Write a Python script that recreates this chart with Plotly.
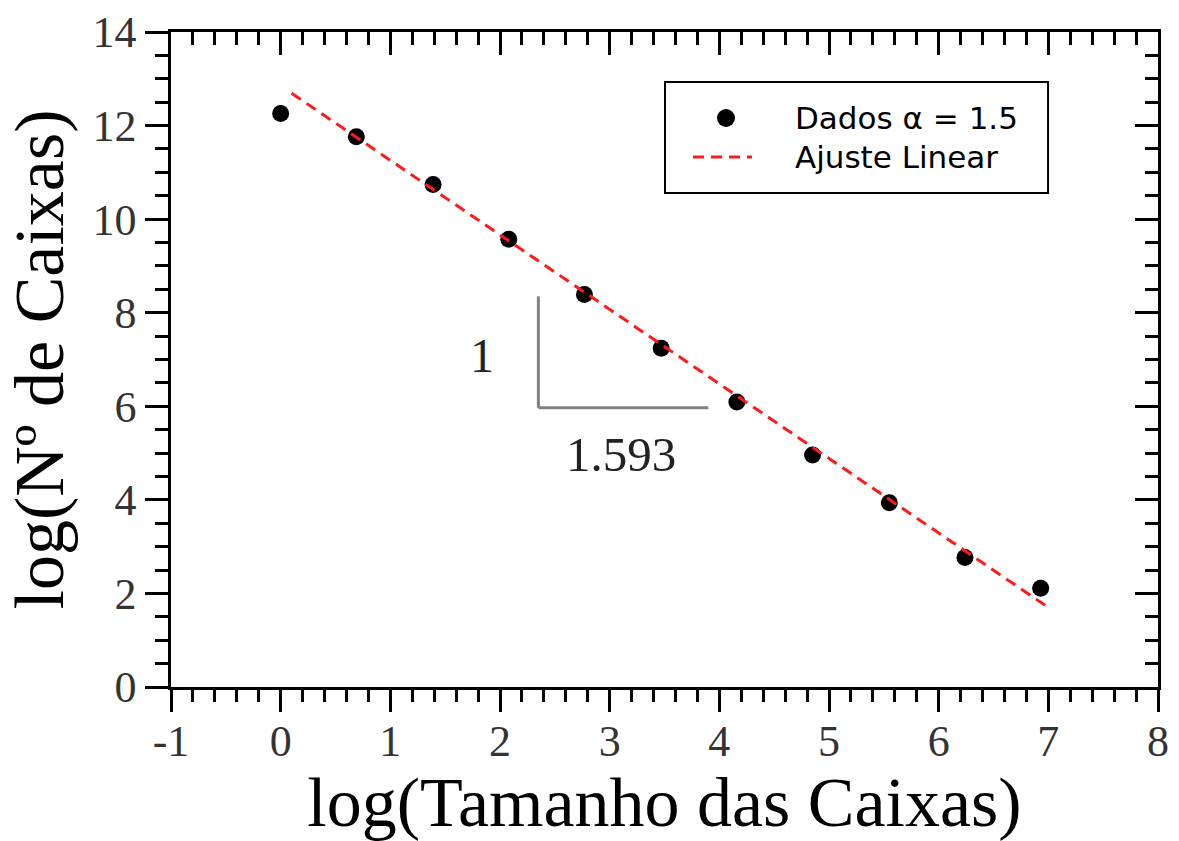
import plotly.graph_objects as go

# Box-counting data: log of box size vs log of number of boxes
log_tamanho = [0.00, 0.69, 1.39, 2.08, 2.77, 3.47, 4.16, 4.85, 5.55, 6.24, 6.93]
log_caixas = [12.26, 11.76, 10.74, 9.57, 8.39, 7.24, 6.09, 4.96, 3.94, 2.77, 2.11]

# Linear fit (slope = -fractal dimension)
dimensao = 1.593
intercepto = 12.85
ajuste_x = [0.10, 6.98]
ajuste_y = [intercepto - dimensao * x for x in ajuste_x]

# Axis ticks
x_ticks = [-1, 0, 1, 2, 3, 4, 5, 6, 7, 8]
x_tick_labels = ["-1", "0", "1", "2", "3", "4", "5", "6", "7", "8"]
y_ticks = [0, 2, 4, 6, 8, 10, 12, 14]

# Slope triangle guide
tri_x0, tri_x1 = 2.35, 3.90
tri_y0, tri_y1 = 5.97, 8.35

# Legend entries
nome_dados = "Dados α = 1.5"
nome_ajuste = "Ajuste Linear"

serif = "Liberation Serif, Times New Roman, serif"
sans = "DejaVu Sans, Verdana, sans-serif"
cor_ajuste = "#ff1a1a"
dash_ajuste = "11px,7px"

fig = go.Figure()
fig.add_trace(go.Scatter(
    x=log_tamanho, y=log_caixas, mode="markers",
    marker=dict(color="black", size=17), name=nome_dados,
))
fig.add_trace(go.Scatter(
    x=ajuste_x, y=ajuste_y, mode="lines",
    line=dict(color=cor_ajuste, width=3, dash=dash_ajuste), name=nome_ajuste,
))
# helper trace for the mirrored top/right axes
fig.add_trace(go.Scatter(x=[None], y=[None], xaxis="x2", yaxis="y2",
                         showlegend=False, hoverinfo="skip"))

# slope triangle
fig.add_shape(type="line", x0=tri_x0, x1=tri_x0, y0=tri_y0, y1=tri_y1,
              line=dict(color="#808080", width=3))
fig.add_shape(type="line", x0=tri_x0, x1=tri_x1, y0=tri_y0, y1=tri_y0,
              line=dict(color="#808080", width=3))
fig.add_annotation(x=1.84, y=7.09, text="1", showarrow=False,
                   font=dict(family=serif, size=48, color="#222"))
fig.add_annotation(x=3.10, y=4.98, text=f"{dimensao:.3f}", showarrow=False,
                   font=dict(family=serif, size=49, color="#222"))

# framed legend box
fig.add_shape(type="rect", xref="paper", yref="paper",
              x0=0.5005, x1=0.8886, y0=0.7542, y1=0.9237,
              line=dict(color="black", width=2), fillcolor="white", layer="above")
fig.add_shape(type="circle", xref="paper", yref="paper",
              xsizemode="pixel", ysizemode="pixel", xanchor=0.5623, yanchor=0.8687,
              x0=-9, x1=9, y0=-9, y1=9,
              fillcolor="black", line=dict(color="black", width=0), layer="above")
fig.add_shape(type="line", xref="paper", yref="paper",
              x0=0.5289, x1=0.5887, y0=0.8092, y1=0.8092,
              line=dict(color=cor_ajuste, width=3, dash=dash_ajuste), layer="above")
fig.add_annotation(xref="paper", yref="paper", x=0.6302, y=0.8687,
                   xanchor="left", yanchor="middle",
                   text=nome_dados, showarrow=False,
                   font=dict(family=sans, size=31, color="black"))
fig.add_annotation(xref="paper", yref="paper", x=0.6302, y=0.8092,
                   xanchor="left", yanchor="middle",
                   text=nome_ajuste, showarrow=False,
                   font=dict(family=sans, size=31, color="black"))

axis_common = dict(showline=True, linecolor="black", linewidth=2.5,
                   showgrid=False, zeroline=False, tickcolor="black",
                   tickwidth=2.5, automargin=False)

fig.update_layout(
    width=1179, height=841,
    margin=dict(l=171, r=21, t=32, b=154, autoexpand=False),
    plot_bgcolor="white", paper_bgcolor="white",
    showlegend=False,
    xaxis=dict(
        range=[-1, 8], tickvals=x_ticks, ticktext=x_tick_labels,
        ticks="outside", ticklen=22, ticklabelstandoff=-9,
        minor=dict(dtick=0.2, tick0=0, ticklen=12, ticks="outside", tickcolor="black", tickwidth=2.5),
        tickfont=dict(family=serif, size=44, color="#333"),
        title=dict(text="log(Tamanho das Caixas)", font=dict(family=serif, size=70, color="black"), standoff=6),
        **axis_common,
    ),
    yaxis=dict(
        range=[0, 14], tickvals=y_ticks, ticks="outside", ticklen=23,
        minor=dict(dtick=0.5, tick0=0, ticklen=13, ticks="outside", tickcolor="black", tickwidth=2.5),
        tickfont=dict(family=serif, size=44, color="#333"),
        title=dict(text="log(Nº de Caixas)", font=dict(family=serif, size=70, color="black"), standoff=6),
        **axis_common,
    ),
    xaxis2=dict(
        range=[-1, 8], dtick=1, tick0=0, ticks="inside", ticklen=23,
        minor=dict(dtick=0.2, tick0=0, ticklen=13, ticks="inside", tickcolor="black", tickwidth=2.5),
        showticklabels=False, overlaying="x", side="top", anchor="y",
        **axis_common,
    ),
    yaxis2=dict(
        range=[0, 14], dtick=2, tick0=0, ticks="inside", ticklen=23,
        minor=dict(dtick=0.5, tick0=0, ticklen=13, ticks="inside", tickcolor="black", tickwidth=2.5),
        showticklabels=False, overlaying="y", side="right", anchor="x",
        **axis_common,
    ),
)

fig.write_html("out.html")
